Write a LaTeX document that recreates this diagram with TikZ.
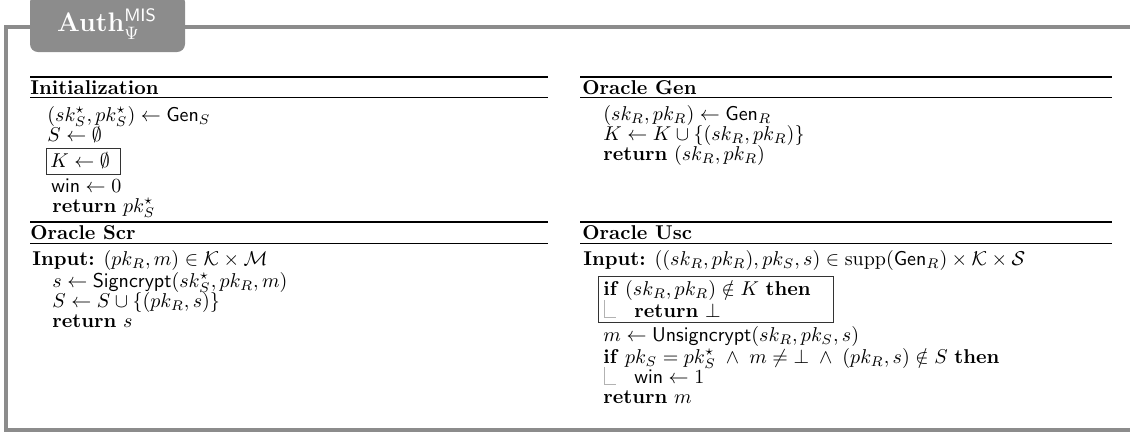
\documentclass[tikz,border=0pt]{standalone}
\usepackage{amsmath,amssymb}
\definecolor{framegray}{HTML}{8C8C8C}
\newcommand{\kwd}[1]{\textbf{#1}}
\tikzset{
  txt/.style={anchor=base west, inner sep=0pt, font=\fontsize{10}{12}\selectfont},
  hdr/.style={anchor=base west, inner sep=0pt, font=\fontsize{10}{12}\selectfont\bfseries},
  thickrule/.style={line width=0.9pt},
  thinrule/.style={line width=0.4pt},
  algbox/.style={draw=black!80, line width=0.5pt},
  blockmark/.style={draw=black!30, line width=0.3pt},
  frameline/.style={draw=framegray, line width=2pt},
  titlebox/.style={fill=framegray, rounded corners=4pt},
}
\begin{document}
\begin{tikzpicture}[x=0.5pt,y=-0.5pt]
\useasboundingbox (0,0) rectangle (1130,435);
% frame
\draw[frameline] (1130,27) -- (6,27) -- (6,430) -- (1130,430);
\fill[titlebox] (30,-6) rectangle (185,52);
\node[text=white, font=\fontsize{13.4}{16}\selectfont, inner sep=0pt] (title) at (107,24)
  {\textbf{Auth}$^{\mathsf{MIS}}_{\Psi}$};

% ---------- Initialization ----------
\draw[thickrule] (30,77) -- (548,77);
\node[hdr] (ih) at (30,94) {Initialization};
\draw[thinrule] (30,97) -- (548,97);
\node[txt] (i1) at (47,121) {$(sk^\star_S, pk^\star_S) \leftarrow \mathsf{Gen}_S$};
\node[txt] (i2) at (47,141) {$S \leftarrow \emptyset$};
\draw[algbox] (46,148) rectangle (120,174);
\node[txt] (i3) at (50,167) {$K \leftarrow \emptyset$};
\node[txt] (i4) at (51,192) {$\mathsf{win} \leftarrow 0$};
\node[txt] (i5) at (52,212) {\kwd{return} $pk^\star_S$};

% ---------- Oracle Scr ----------
\draw[thickrule] (30,222) -- (548,222);
\node[hdr] (sh) at (30,239) {Oracle Scr};
\draw[thinrule] (30,243) -- (548,243);
\node[txt] (s0) at (32,265) {\kwd{Input:} $(pk_R, m) \in \mathcal{K} \times \mathcal{M}$};
\node[txt] (s1) at (52,287) {$s \leftarrow \mathsf{Signcrypt}(sk^\star_S, pk_R, m)$};
\node[txt] (s2) at (52,307) {$S \leftarrow S \cup \{(pk_R, s)\}$};
\node[txt] (s3) at (52,327) {\kwd{return} $s$};

% ---------- Oracle Gen ----------
\draw[thickrule] (580,77) -- (1112,77);
\node[hdr] (gh) at (582,94) {Oracle Gen};
\draw[thinrule] (580,97) -- (1112,97);
\node[txt] (g1) at (603,120) {$(sk_R, pk_R) \leftarrow \mathsf{Gen}_R$};
\node[txt] (g2) at (603,140) {$K \leftarrow K \cup \{(sk_R, pk_R)\}$};
\node[txt] (g3) at (603,160) {\kwd{return} $(sk_R, pk_R)$};

% ---------- Oracle Usc ----------
\draw[thickrule] (580,222) -- (1112,222);
\node[hdr] (uh) at (582,239) {Oracle Usc};
\draw[thinrule] (580,243) -- (1112,243);
\node[txt] (u0) at (583,265) {\kwd{Input:} $((sk_R, pk_R), pk_S, s) \in \mathrm{supp}(\mathsf{Gen}_R) \times \mathcal{K} \times \mathcal{S}$};
\draw[algbox] (598,276) rectangle (833,322);
\node[txt] (u1) at (603,295) {\kwd{if} $(sk_R, pk_R) \notin K$ \kwd{then}};
\node[txt] (u2) at (634,317) {\kwd{return} $\bot$};
\draw[blockmark] (604,300) -- (604,317) -- (616,317);
\node[txt] (u3) at (603,341) {$m \leftarrow \mathsf{Unsigncrypt}(sk_R, pk_S, s)$};
\node[txt] (u4) at (603,363) {\kwd{if} $pk_S = pk^\star_S \;\wedge\; m \neq \bot \;\wedge\; (pk_R, s) \notin S$ \kwd{then}};
\node[txt] (u5) at (634,383) {$\mathsf{win} \leftarrow 1$};
\draw[blockmark] (604,367) -- (604,384) -- (616,384);
\node[txt] (u6) at (603,403) {\kwd{return} $m$};
\end{tikzpicture}
\end{document}
